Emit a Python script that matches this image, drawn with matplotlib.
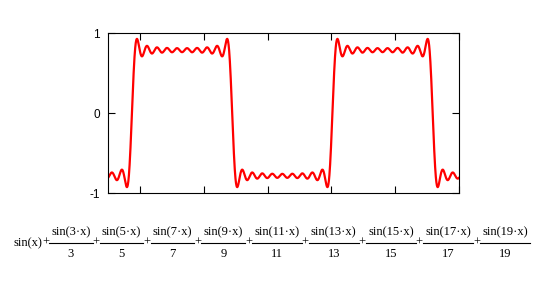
import numpy as np
import matplotlib
matplotlib.use("Agg")
import matplotlib.pyplot as plt
from matplotlib.lines import Line2D

# odd harmonics in the partial Fourier sum shown under the plot
harmonics = [1, 3, 5, 7, 9, 11, 13, 15, 17, 19]
x_range = [-0.75, 10.25]
y_ticks = [-1, 0, 1]
y_tick_labels = ["-1", "0", "1"]

W, H = 549, 284
fig = plt.figure(figsize=(W / 100, H / 100), dpi=100)
ax = fig.add_axes([108 / W, 1 - 193 / H, 351 / W, 160 / H])

x = np.linspace(x_range[0], x_range[1], 2000)
y = np.zeros_like(x)
for n in harmonics:
    y += np.sin(n * x) / n
ax.plot(x, y, color="red", lw=1.6)

ax.set_xlim(x_range)
ax.set_ylim(-1, 1)
ax.set_xticks(np.arange(x_range[0] + 1.0, x_range[1] + 0.01, 2.0))
ax.set_xticklabels([])
ax.set_yticks(y_ticks)
ax.set_yticklabels(y_tick_labels, family="Liberation Sans", fontsize=8.5)
ax.tick_params(direction="in", length=5, width=0.8, top=True, right=True, pad=6)
for s in ax.spines.values():
    s.set_linewidth(0.8)

# formula below the chart, built piece by piece
fs = 9
fam = "Liberation Serif"
renderer = fig.canvas.get_renderer()

def text_width(s):
    t = fig.text(0, 0, s, fontsize=fs, family=fam)
    w = t.get_window_extent(renderer).width
    t.remove()
    return w

def fx(px):
    return px / W

def fy(px):
    return 1 - px / H

y_mid = 243
y_num = 232
y_den = 254
start, end = 13, 530

terms = [("sin(%d\u00b7x)" % n, str(n)) for n in harmonics[1:]]
plus_w = text_width("+")
natural = text_width("sin(x)") + len(terms) * plus_w
natural += sum(max(text_width(a), text_width(b)) for a, b in terms)
pad = (end - start - natural) / len(terms)

cur = start
fig.text(fx(cur), fy(y_mid), "sin(x)", fontsize=fs, family=fam, va="center", ha="left")
cur += text_width("sin(x)")
for num, den in terms:
    fig.text(fx(cur + plus_w / 2), fy(y_mid), "+", fontsize=fs, family=fam,
             va="center", ha="center")
    cur += plus_w
    bw = max(text_width(num), text_width(den)) + pad
    c = cur + bw / 2
    fig.text(fx(c), fy(y_num), num, fontsize=fs, family=fam, va="center", ha="center")
    fig.text(fx(c), fy(y_den), den, fontsize=fs, family=fam, va="center", ha="center")
    fig.add_artist(Line2D([fx(cur), fx(cur + bw)], [fy(y_mid), fy(y_mid)],
                          color="black", lw=0.8, transform=fig.transFigure))
    cur += bw

fig.savefig("out.png", dpi=100)
